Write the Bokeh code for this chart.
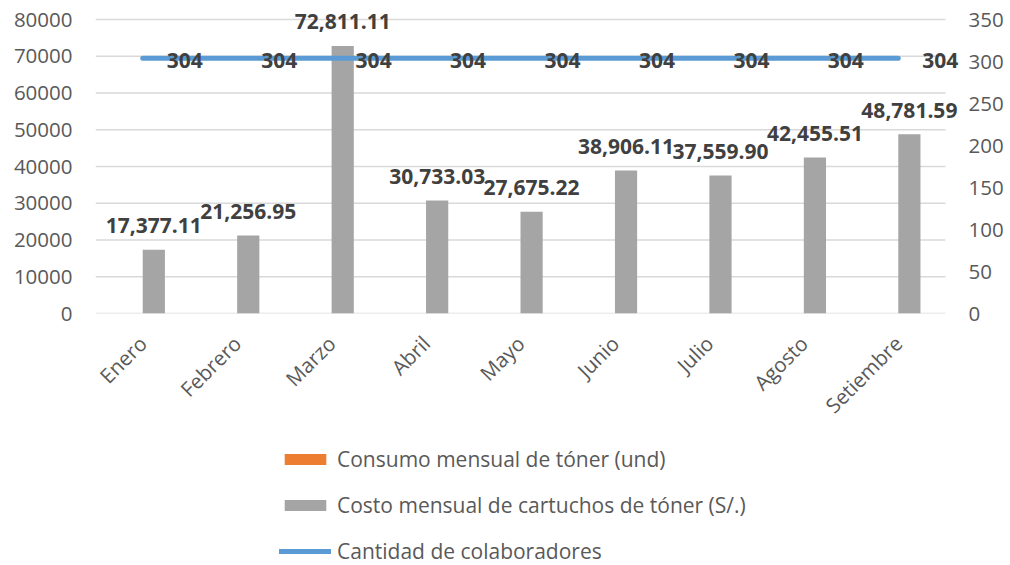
from math import pi
from bokeh.plotting import figure
from bokeh.layouts import column
from bokeh.models import (Range1d, LinearAxis, FixedTicker,
                          ColumnDataSource, Legend, LegendItem)
from bokeh.transform import dodge
from bokeh.core.properties import value
from bokeh.embed import file_html
from bokeh.resources import INLINE

# ---- data ----
months = ["Enero", "Febrero", "Marzo", "Abril", "Mayo", "Junio", "Julio", "Agosto", "Setiembre"]
consumo_toner = [0, 0, 0, 0, 0, 0, 0, 0, 0]
costo_cartuchos = [17377.11, 21256.95, 72811.11, 30733.03, 27675.22, 38906.11, 37559.90, 42455.51, 48781.59]
colaboradores = [304, 304, 304, 304, 304, 304, 304, 304, 304]
left_ticks = [0, 10000, 20000, 30000, 40000, 50000, 60000, 70000, 80000]
right_ticks = [0, 50, 100, 150, 200, 250, 300, 350]
LEFT_MAX = 80000
RIGHT_MAX = 350

# ---- layout constants ----
FONT = "Open Sans"
GRAY_TXT = "#595959"
DARK_TXT = "#404040"
PLOT_W = 850          # width of the category area (px)
PLOT_H = 294          # height from 0 to the top tick (px)
FRAME_W = 867         # frame a bit wider so the last label is not clipped
FRAME_H = 311         # frame a bit taller so the top label is not clipped
BW = 0.235

pos = list(range(1, len(months) + 1))
src = ColumnDataSource(dict(
    x=pos,
    consumo=consumo_toner,
    costo=costo_cartuchos,
    costo_lbl=[f"{v:,.2f}" for v in costo_cartuchos],
    col=colaboradores,
    col_lbl=[str(v) for v in colaboradores],
))

n = len(months)
x_end = 0.5 + n * FRAME_W / PLOT_W
y_end = LEFT_MAX * FRAME_H / PLOT_H
y2_end = RIGHT_MAX * FRAME_H / PLOT_H

p = figure(x_range=Range1d(0.5, x_end), y_range=Range1d(0, y_end),
           frame_width=FRAME_W, frame_height=FRAME_H,
           min_border_left=95, min_border_right=48, min_border_top=2, min_border_bottom=117,
           output_backend="svg", toolbar_location=None)
p.outline_line_color = None
p.extra_y_ranges = {"right": Range1d(0, y2_end)}
p.xgrid.grid_line_color = None
p.ygrid.grid_line_color = None

# horizontal gridlines (limited to the category area)
grid_src = ColumnDataSource(dict(y=left_ticks,
                                 x0=[0.5] * len(left_ticks),
                                 x1=[0.5 + n] * len(left_ticks)))
p.segment(x0="x0", x1="x1", y0="y", y1="y", source=grid_src,
          line_color="#D9D9D9", line_width=1.5)

# axes
p.yaxis[0].ticker = FixedTicker(ticks=left_ticks)
right_axis = LinearAxis(y_range_name="right", ticker=FixedTicker(ticks=right_ticks))
p.add_layout(right_axis, "right")

for ax, so in [(p.yaxis[0], 23), (right_axis, 6)]:
    ax.axis_line_color = None
    ax.major_tick_line_color = None
    ax.minor_tick_line_color = None
    ax.major_tick_out = 0
    ax.major_tick_in = 0
    ax.major_label_standoff = so
    ax.major_label_text_font = FONT
    ax.major_label_text_font_size = "20.5px"
    ax.major_label_text_color = GRAY_TXT

xa = p.xaxis[0]
xa.ticker = FixedTicker(ticks=pos)
xa.major_label_overrides = {i: m for i, m in zip(pos, months)}
xa.axis_line_color = None
xa.major_tick_line_color = None
xa.minor_tick_line_color = None
xa.major_tick_out = 0
xa.major_tick_in = 0
xa.major_label_orientation = pi / 4
xa.major_label_standoff = 26
xa.major_label_text_font = FONT
xa.major_label_text_font_size = "20.5px"
xa.major_label_text_color = GRAY_TXT

# bars and line
p.vbar(x=dodge("x", -BW / 2), top="consumo", width=BW,
       source=src, fill_color="#ED7D31", line_alpha=0)
p.vbar(x=dodge("x", BW / 2), top="costo", width=BW,
       source=src, fill_color="#A5A5A5", line_alpha=0)
p.line(x="x", y="col", y_range_name="right", source=src,
       line_width=5, line_color="#5B9BD5", line_cap="round")

# data labels
p.text(x=dodge("x", BW / 2), y="costo", text="costo_lbl", source=src,
       text_align="center", text_baseline="middle", y_offset=-24,
       text_font=value(FONT), text_font_style="bold", text_font_size="21px",
       text_color=DARK_TXT)
p.text(x="x", y="col", y_range_name="right", text="col_lbl", source=src,
       text_align="left", text_baseline="middle", x_offset=24, y_offset=2,
       text_font=value(FONT), text_font_style="bold", text_font_size="21px",
       text_color=DARK_TXT)

# ---- legend figure (hidden copies of the series; only the legend shows) ----
lf = figure(width=1010, height=135, x_range=Range1d(0, 10), y_range=Range1d(0, 1),
            min_border_left=0, min_border_right=0, min_border_top=0, min_border_bottom=0,
            x_axis_location=None, y_axis_location=None,
            output_backend="svg", toolbar_location=None)
lf.outline_line_color = None
lf.xgrid.visible = False
lf.ygrid.visible = False
l1 = lf.vbar(x="x", top="consumo", width=BW, source=src, fill_color="#ED7D31", line_alpha=0)
l2 = lf.vbar(x="x", top="costo", width=BW, source=src, fill_color="#A5A5A5", line_alpha=0)
l3 = lf.line(x="x", y="col", source=src, line_width=5, line_color="#5B9BD5", line_cap="round")
for r in (l1, l2, l3):
    r.visible = False

legend = Legend(items=[
    LegendItem(label="Consumo mensual de tóner (und)", renderers=[l1]),
    LegendItem(label="Costo mensual de cartuchos de tóner (S/.)", renderers=[l2]),
    LegendItem(label="Cantidad de colaboradores", renderers=[l3]),
], location=(184, 1), orientation="vertical")
legend.glyph_width = 52
legend.glyph_height = 14
legend.label_height = 27
legend.spacing = 18
legend.label_standoff = 6
legend.padding = 0
legend.margin = 0
legend.border_line_color = None
legend.background_fill_alpha = 0
legend.label_text_font = FONT
legend.label_text_font_size = "21px"
legend.label_text_color = GRAY_TXT
lf.add_layout(legend, "center")

layout = column(p, lf, spacing=0)
open("out.html", "w").write(file_html(layout, INLINE))
